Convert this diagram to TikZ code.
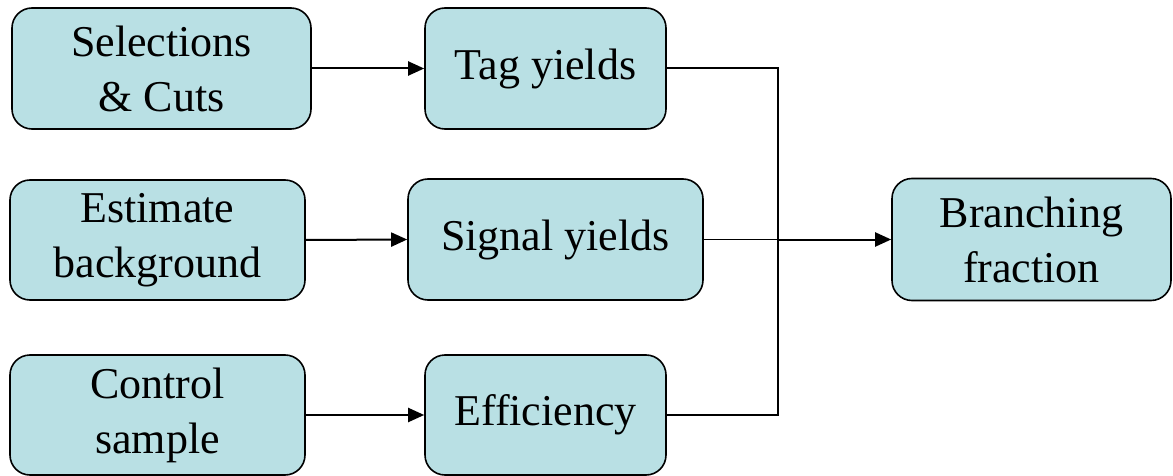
\documentclass[tikz,border=0pt]{standalone}
\usepackage{fontspec}
\setmainfont{Liberation Serif}
\usetikzlibrary{arrows.meta}
\definecolor{boxfill}{RGB}{185,224,228}
\tikzset{
  stagebox/.style={draw=black, fill=boxfill, line width=0.8pt, rounded corners=10pt,
    align=center, inner sep=0pt, font=\fontsize{22}{27.5}\selectfont},
  arr/.style={line width=1pt, -{Triangle[length=8pt,width=7pt]}},
  link/.style={line width=1pt},
  thinlink/.style={line width=0.5pt}
}
\begin{document}
\begin{tikzpicture}[x=0.5pt,y=-0.5pt]
\useasboundingbox (0,0) rectangle (1173,476);
\node[stagebox, minimum width=149.5pt, minimum height=60.5pt] (sel) at (161.5,68.5) {Selections\\\& Cuts};
\node[stagebox, minimum width=120.5pt, minimum height=60.5pt] (tag) at (545.5,68.5) {Tag yields};
\node[stagebox, minimum width=147.5pt, minimum height=60pt] (est) at (157.5,240) {Estimate\\background};
\node[stagebox, minimum width=147.5pt, minimum height=60.5pt] (sig) at (555.5,239.5) {Signal yields};
\node[stagebox, minimum width=147.5pt, minimum height=60pt] (ctl) at (157.5,415) {Control\\sample};
\node[stagebox, minimum width=120.5pt, minimum height=60pt] (eff) at (545.5,415) {Efficiency};
\node[stagebox, minimum width=139.5pt, minimum height=61pt] (br) at (1031.5,239.5) {Branching\\fraction};
\coordinate (jx) at (778,239.5);
\draw[arr] (sel.east) -- (tag.west);
\draw[arr] (est.east) -- (sig.west);
\draw[arr] (ctl.east) -- (eff.west);
\draw[link] (tag.east) -| (jx) |- (eff.east);
\draw[thinlink] (sig.east) -- (jx);
\draw[arr] (jx) -- (br.west);
\end{tikzpicture}
\end{document}
